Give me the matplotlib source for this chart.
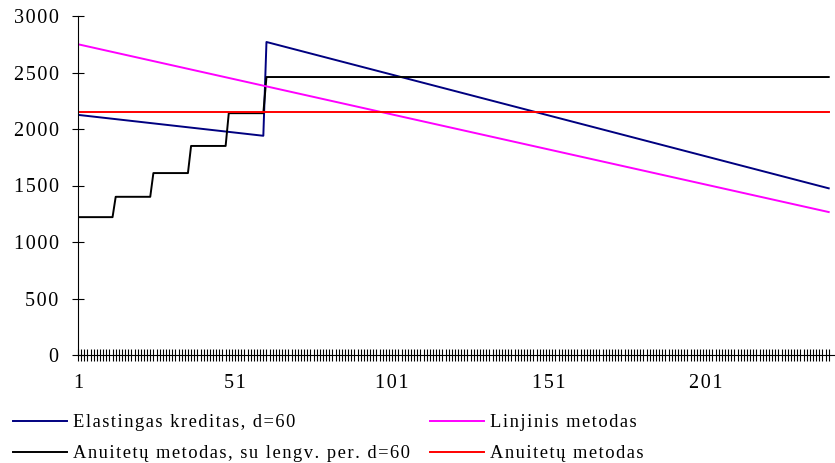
import numpy as np
import matplotlib
matplotlib.use('Agg')
import matplotlib.pyplot as plt
from matplotlib.ticker import FixedLocator, FuncFormatter

plt.rcParams['font.family'] = ['Liberation Serif', 'DejaVu Serif']

# monthly payments over 240 months (breakpoints of each schedule)
elastic_x = [1, 60, 61, 240]
elastic_y = [2125, 1940, 2770, 1475]

linear_x = [1, 240]
linear_y = [2750, 1265]

grace_x = [1, 12, 13, 24, 25, 36, 37, 48, 49, 60, 61, 240]
grace_y = [1220, 1220, 1400, 1400, 1610, 1610, 1850, 1850, 2140, 2140, 2460, 2460]

annuity_x = [1, 240]
annuity_y = [2150, 2150]

months = np.arange(1, 241)
x_labels = [1, 51, 101, 151, 201]
y_ticks = [0, 500, 1000, 1500, 2000, 2500, 3000]

labels = ['Elastingas kreditas, d=60',
          'Anuitetų metodas, su lengv. per. d=60',
          'Linjinis metodas',
          'Anuitetų metodas']

HAIR = '\u200a'


def track(s):
    # loose letter spacing like the old Excel output
    return HAIR.join(s)


fig = plt.figure(figsize=(8.35, 4.63), dpi=100)
ax = fig.add_axes([78/835, 1-355/463, 1-78/835, (355-16)/463])

l_el, = ax.plot(elastic_x, elastic_y, color='#000080', lw=1.4)
l_gr, = ax.plot(grace_x, grace_y, color='black', lw=1.4)
l_li, = ax.plot(linear_x, linear_y, color='#FF00FF', lw=1.4)
l_an, = ax.plot(annuity_x, annuity_y, color='#FF0000', lw=1.4)

ax.set_xlim(1, 242)
ax.set_ylim(0, 3000)
ax.spines['top'].set_visible(False)
ax.spines['right'].set_visible(False)
ax.spines['left'].set_bounds(0, 3000)

ax.xaxis.set_major_locator(FixedLocator(x_labels))
ax.xaxis.set_minor_locator(FixedLocator(months))
ax.set_yticks(y_ticks)
ax.tick_params(axis='x', which='both', direction='inout', length=8, width=0.8,
               pad=10, labelsize=14.5)
ax.tick_params(axis='y', direction='inout', length=8, width=0.8,
               pad=10, labelsize=14.5)

spaced = FuncFormatter(lambda v, p: track(str(int(v))))
ax.xaxis.set_major_formatter(spaced)
ax.yaxis.set_major_formatter(spaced)

leg_kw = dict(loc='upper left', frameon=False, fontsize=13.3, borderpad=0,
              borderaxespad=0, handlelength=2.95, handletextpad=0.3,
              labelspacing=0.78)
fig.legend([l_el, l_gr], [track(t) for t in labels[:2]],
           bbox_to_anchor=(13/835, 1-414/463), **leg_kw)
fig.legend([l_li, l_an], [track(t) for t in labels[2:]],
           bbox_to_anchor=(430/835, 1-414/463), **leg_kw)

fig.savefig('out.png', dpi=100)
